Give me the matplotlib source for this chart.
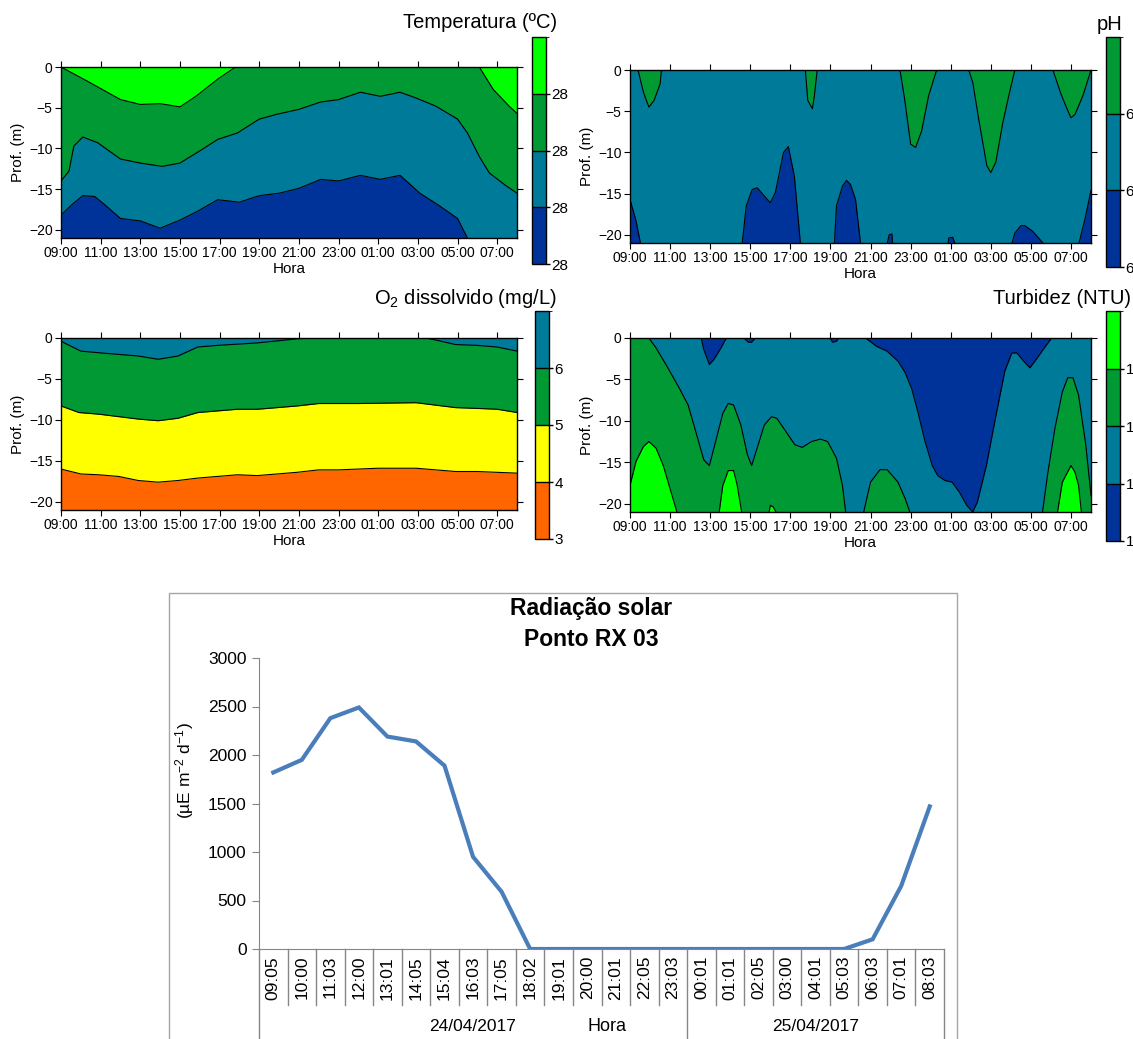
import matplotlib
matplotlib.use('Agg')
import matplotlib.pyplot as plt
from matplotlib.colors import ListedColormap, BoundaryNorm
from matplotlib.cm import ScalarMappable
from matplotlib.patches import Rectangle

plt.rcParams['font.family'] = ['Liberation Sans', 'DejaVu Sans']
plt.rcParams['mathtext.default'] = 'regular'

W, H = 1133, 1039

# ---------------- dados (hora: 0 = 09:00 ... 23 = 08:00, profundidade em m)
horas_lbl = ['09:00', '11:00', '13:00', '15:00', '17:00', '19:00', '21:00',
             '23:00', '01:00', '03:00', '05:00', '07:00']

# Temperatura - isolinhas
temp_l1a_h = [0, 1.3, 3.0, 4.0, 5.0, 6.0, 6.8, 7.9, 8.8]
temp_l1a_d = [0, -1.7, -4.0, -4.6, -4.5, -4.9, -3.6, -1.5, 0]
temp_l1b_h = [21.1, 21.8, 22.6, 23.0]
temp_l1b_d = [0, -2.75, -4.8, -5.7]
temp_l2_h = [0, 0.4, 0.65, 1.1, 1.85, 3.0, 4.0, 5.1, 6.0, 7.0, 7.9, 8.9, 10.0, 10.9,
             12.0, 13.1, 14.0, 15.1, 16.1, 17.1, 17.9, 18.9, 20.0, 20.5, 21.1, 21.6, 22.4, 23.0]
temp_l2_d = [-14.0, -12.8, -9.7, -8.6, -9.3, -11.3, -11.8, -12.2, -11.8, -10.3, -8.9, -8.1,
             -6.4, -5.8, -5.2, -4.3, -4.0, -3.1, -3.6, -3.1, -3.8, -4.8, -6.4, -8.1, -11.0,
             -13.0, -14.5, -15.5]
temp_l3_h = [0, 0.55, 1.1, 1.7, 2.2, 3.0, 4.0, 5.0, 6.0, 6.9, 7.9, 9.0, 10.0, 11.0, 12.0,
             13.1, 14.0, 15.1, 16.1, 17.1, 18.1, 19.0, 20.0, 20.5]
temp_l3_d = [-18.2, -16.9, -15.8, -15.9, -16.9, -18.6, -18.9, -19.8, -18.8, -17.7, -16.3,
             -16.6, -15.8, -15.5, -14.9, -13.8, -14.0, -13.3, -13.8, -13.3, -15.5, -16.9,
             -18.6, -21.0]
temp_niveis = [28.0, 28.1, 28.2, 28.3, 28.4]

# pH - manchas verdes (superficie) e azuis (fundo)
ph_verde_h = [[0.4, 0.67, 0.94, 1.2, 1.5, 1.57],
              [8.75, 8.87, 9.1, 9.2, 9.34],
              [13.47, 13.7, 14.0, 14.25, 14.55, 14.9, 15.3],
              [16.9, 17.1, 17.4, 17.8, 18.0, 18.25, 18.6, 18.9, 19.2],
              [21.1, 21.5, 21.8, 22.0, 22.2, 22.6, 23.0]]
ph_verde_d = [[0, -2.7, -4.5, -3.7, -1.7, 0],
              [0, -3.7, -4.7, -3.1, 0],
              [0, -3.5, -9.0, -9.4, -7.4, -3.1, 0],
              [0, -1.5, -6.0, -11.6, -12.45, -11.2, -6.4, -3.1, 0],
              [0, -2.9, -4.7, -5.8, -5.4, -3.1, 0]]
ph_azul_h = [[0, 0.3, 0.52],
             [5.6, 5.8, 6.1, 6.35, 6.7, 7.0, 7.25, 7.66, 7.9, 8.2, 8.5],
             [10.2, 10.3, 10.6, 10.8, 11.0, 11.25, 11.5],
             [12.84, 12.93, 13.07, 13.1],
             [15.87, 15.9, 16.1, 16.2],
             [19.06, 19.2, 19.5, 19.7, 20.1, 20.6],
             [22.4, 22.7, 23.0]]
ph_azul_d = [[-15.7, -18.3, -21],
             [-21, -16.5, -14.5, -14.3, -15.3, -16.1, -14.9, -10.0, -9.3, -12.9, -21],
             [-21, -16.5, -14.1, -13.4, -13.9, -15.7, -21],
             [-21, -20.0, -19.9, -21],
             [-21, -20.4, -20.3, -21],
             [-21, -19.8, -18.9, -18.9, -19.6, -21],
             [-21, -18.1, -14.6]]
ph_niveis = [5.8, 6.0, 6.2, 6.4]

# O2 dissolvido - isolinhas
o2_l1_h = [0, 1.0, 1.9, 2.9, 3.9, 4.9, 5.9, 6.9, 7.9, 9.9, 11.9, 12.6, 18.4, 19.0, 19.9,
           21.0, 22.0, 23.0]
o2_l1_d = [-0.4, -1.6, -1.8, -2.0, -2.2, -2.6, -2.2, -1.1, -0.9, -0.6, -0.1, 0, 0, -0.3,
           -0.8, -0.9, -1.1, -1.6]
o2_l2_h = [0, 0.9, 1.9, 2.9, 3.9, 4.9, 5.9, 6.9, 7.9, 8.9, 9.9, 10.9, 11.9, 13.0, 15.0,
           17.9, 18.9, 19.9, 21.0, 22.0, 23.0]
o2_l2_d = [-8.3, -9.1, -9.3, -9.6, -9.9, -10.1, -9.8, -9.1, -8.9, -8.7, -8.7, -8.5, -8.3,
           -8.0, -8.0, -7.9, -8.2, -8.5, -8.6, -8.7, -9.1]
o2_l3_h = [0, 1, 1.9, 2.9, 3.9, 4.9, 5.9, 6.9, 7.9, 8.9, 9.9, 10.9, 11.9, 13, 14, 15, 16,
           17, 17.9, 18.9, 19.9, 21, 23]
o2_l3_d = [-16.0, -16.6, -16.7, -16.9, -17.4, -17.6, -17.4, -17.1, -16.9, -16.7, -16.8,
           -16.6, -16.4, -16.1, -16.1, -16.0, -15.9, -15.9, -15.9, -16.1, -16.3, -16.3, -16.5]
o2_niveis = [3, 4, 5, 6, 7]

# Turbidez - regioes verdes, verde claro (fundo) e azuis (superficie)
tb_verde_h = [[0, 0.94, 1.3, 1.84, 2.47, 2.9, 3.28, 3.68, 3.96, 4.27, 4.63, 4.9, 5.17, 5.53,
               5.86, 6.07, 6.34, 6.7, 7.06, 7.33, 7.78, 8.23, 8.6, 9.05, 9.5, 9.86, 10.3,
               10.6, 10.76],
              [11.66, 12.0, 12.47, 12.83, 13.37, 13.73, 13.96],
              [20.58, 20.85, 21.2, 21.57, 21.84, 22.1, 22.38, 22.74, 23.0]]
tb_verde_d = [[0, 0, -1.2, -3.4, -6.1, -8.1, -11.3, -14.7, -15.4, -12.5, -9.1, -7.9, -8.1,
               -10.5, -14.1, -15.4, -13.3, -10.5, -9.5, -9.7, -11.3, -12.9, -13.2, -12.5,
               -12.2, -12.5, -14.5, -17.8, -21],
              [-21, -17.4, -15.9, -15.9, -17.4, -19.4, -21],
              [-21, -16.2, -10.9, -6.5, -4.8, -4.8, -6.9, -12.9, -19.0]]
tb_claro_h = [[0, 0.3, 0.67, 0.94, 1.3, 1.66, 2.0, 2.34],
              [4.45, 4.63, 4.9, 5.17, 5.35, 5.57],
              [6.94, 7.0, 7.15, 7.28],
              [21.33, 21.57, 22.0, 22.2, 22.38, 22.52]]
tb_claro_d = [[-17.8, -14.9, -13.1, -12.5, -13.3, -15.4, -18.2, -21],
              [-21, -17.8, -16.0, -16.0, -17.8, -21],
              [-21, -20.2, -20.4, -21],
              [-21, -17.4, -15.4, -16.2, -17.8, -21]]
tb_azul_h = [[3.55, 3.68, 3.96, 4.18, 4.54, 4.8],
             [5.68, 5.9, 6.07, 6.25],
             [9.98, 10.1, 10.3, 10.4],
             [11.75, 12.3, 12.83, 13.37, 13.73, 14.05, 14.36, 14.72, 15.08, 15.35, 15.71,
              16.07, 16.43, 16.8, 17.1, 17.33, 17.78, 18.23, 18.7, 19.05, 19.3, 19.64,
              19.95, 20.2, 20.67, 21.03]]
tb_azul_d = [[0, -1.4, -3.2, -2.6, -1.2, 0],
             [0, -0.5, -0.5, 0],
             [0, -0.5, -0.4, 0],
             [0, -1.0, -1.6, -2.8, -4.2, -6.1, -8.9, -12.5, -15.4, -16.6, -17.2, -17.4,
              -18.6, -20.2, -21, -19.8, -15.4, -9.7, -4.0, -1.8, -1.8, -2.8, -3.6, -2.8,
              -1.2, 0]]
tb_niveis = [0.8, 0.9, 1.0, 1.1, 1.2]

# Radiacao solar
rad_horas = ['09:05', '10:00', '11:03', '12:00', '13:01', '14:05', '15:04', '16:03',
             '17:05', '18:02', '19:01', '20:00', '21:01', '22:05', '23:03', '00:01',
             '01:01', '02:05', '03:00', '04:01', '05:03', '06:03', '07:01', '08:03']
rad_valores = [1820, 1950, 2380, 2490, 2190, 2140, 1890, 950, 590, 0, 0, 0, 0, 0, 0, 0,
               0, 0, 0, 0, 0, 100, 650, 1470]
rad_datas = ['24/04/2017', '25/04/2017']

# ---------------- cores
VCLARO = '#00FF00'
VERDE = '#009933'
PETROLEO = '#007A99'
AZUL = '#003399'
AMARELO = '#FFFF00'
LARANJA = '#FF6600'


def caixa(l, t, r, b):
    return [l / W, 1 - b / H, (r - l) / W, (b - t) / H]


fig = plt.figure(figsize=(W / 100, H / 100), dpi=100)


def prepara(ax, fundo):
    ax.fill_between([0, 23], -21, 0, color=fundo, lw=0)
    ax.set_xlim(0, 23)
    ax.set_ylim(-21, 0)
    ax.set_xticks(range(0, 23, 2))
    ax.set_xticklabels(horas_lbl)
    ax.set_yticks([0, -5, -10, -15, -20])
    ax.tick_params(direction='out', length=4, top=True, right=True, labelsize=10,
                   pad=2)
    ax.set_xlabel('Hora', fontsize=11, labelpad=1)
    ax.set_ylabel('Prof. (m)', fontsize=11, labelpad=3)
    for s in ax.spines.values():
        s.set_linewidth(1)


def baixo(ax, h, d, cor):
    ax.fill_between(h, d, -21, color=cor, lw=0)
    ax.plot(h, d, color='k', lw=0.8)


def cima(ax, h, d, cor):
    ax.fill_between(h, 0, d, color=cor, lw=0)
    ax.plot(h, d, color='k', lw=0.8)


def barra(rect, cores, niveis):
    cax = fig.add_axes(rect)
    cmap = ListedColormap(cores)
    norm = BoundaryNorm(niveis, cmap.N)
    cb = fig.colorbar(ScalarMappable(norm=norm, cmap=cmap), cax=cax,
                      ticks=niveis[:-1], drawedges=True, format='%.0f')
    cb.ax.tick_params(length=3, labelsize=11, width=1, pad=1)
    cb.outline.set_linewidth(1)
    cb.dividers.set_linewidth(1)
    return cb


# Temperatura
ax1 = fig.add_axes(caixa(61, 67, 517, 238))
prepara(ax1, VERDE)
baixo(ax1, temp_l2_h, temp_l2_d, PETROLEO)
baixo(ax1, temp_l3_h, temp_l3_d, AZUL)
cima(ax1, temp_l1a_h, temp_l1a_d, VCLARO)
cima(ax1, temp_l1b_h, temp_l1b_d, VCLARO)
barra(caixa(532, 37, 546, 264), [AZUL, PETROLEO, VERDE, VCLARO], temp_niveis)
fig.text(557 / W, 1 - 23 / H, 'Temperatura (ºC)', ha='right', va='center', fontsize=14.5)

# pH
ax2 = fig.add_axes(caixa(630, 70, 1091, 243))
prepara(ax2, PETROLEO)
for h, d in zip(ph_verde_h, ph_verde_d):
    cima(ax2, h, d, VERDE)
for h, d in zip(ph_azul_h, ph_azul_d):
    baixo(ax2, h, d, AZUL)
barra(caixa(1106, 37, 1120, 267), [AZUL, PETROLEO, VERDE], ph_niveis)
fig.text(1122 / W, 1 - 24 / H, 'pH', ha='right', va='center', fontsize=14.5)

# O2 dissolvido
ax3 = fig.add_axes(caixa(61, 338, 517, 510))
prepara(ax3, PETROLEO)
baixo(ax3, o2_l1_h, o2_l1_d, VERDE)
baixo(ax3, o2_l2_h, o2_l2_d, AMARELO)
baixo(ax3, o2_l3_h, o2_l3_d, LARANJA)
barra(caixa(535, 311, 549, 539), [LARANJA, AMARELO, VERDE, PETROLEO], o2_niveis)
fig.text(557 / W, 1 - 298 / H, 'O$_2$ dissolvido (mg/L)', ha='right', va='center',
         fontsize=14.5)

# Turbidez
ax4 = fig.add_axes(caixa(630, 338, 1091, 512))
prepara(ax4, PETROLEO)
for h, d in zip(tb_verde_h, tb_verde_d):
    baixo(ax4, h, d, VERDE)
for h, d in zip(tb_claro_h, tb_claro_d):
    baixo(ax4, h, d, VCLARO)
for h, d in zip(tb_azul_h, tb_azul_d):
    cima(ax4, h, d, AZUL)
barra(caixa(1106, 311, 1120, 541), [AZUL, PETROLEO, VERDE, VCLARO], tb_niveis)
fig.text(1131 / W, 1 - 298 / H, 'Turbidez (NTU)', ha='right', va='center', fontsize=14.5)

# ---------------- Radiacao solar
fig.add_artist(Rectangle((169 / W, 1 - 1045 / H), (957 - 169) / W, (1045 - 593) / H,
                         transform=fig.transFigure, fill=False, edgecolor='#a6a6a6', lw=1))
ax5 = fig.add_axes(caixa(259, 658, 944, 949))
x = list(range(len(rad_horas)))
ax5.plot(x, rad_valores, color='#4A7EBB', lw=3, solid_joinstyle='miter')
ax5.set_xlim(-0.5, len(rad_horas) - 0.5)
ax5.set_ylim(0, 3000)
ax5.set_yticks(range(0, 3001, 500))
ax5.tick_params(axis='y', direction='out', length=5, color='#868686', labelsize=12.5, pad=4)
ax5.set_xticks(x)
ax5.set_xticklabels(rad_horas, rotation=90, fontsize=12.5)
ax5.tick_params(axis='x', length=0, pad=5)
for s in ['top', 'right']:
    ax5.spines[s].set_visible(False)
for s in ['left', 'bottom']:
    ax5.spines[s].set_color('#868686')
trans = ax5.get_xaxis_transform()
for i in range(len(rad_horas) + 1):
    ext = -0.31 if i in (0, 15, 24) else -0.193
    ax5.plot([i - 0.5, i - 0.5], [0, ext], color='#868686', lw=1, transform=trans,
             clip_on=False)
ax5.text(7.0, -0.268, rad_datas[0], transform=trans, ha='center', va='center', fontsize=12.5)
ax5.text(19.0, -0.268, rad_datas[1], transform=trans, ha='center', va='center',
         fontsize=12.5)
ax5.text(11.7, -0.268, 'Hora', transform=trans, ha='center', va='center', fontsize=13)
fig.text(185 / W, 1 - 771 / H, '(µE m$^{-2}$ d$^{-1}$)', rotation=90, ha='center',
         va='center', fontsize=12.5)
fig.text(591 / W, 1 - 609 / H, 'Radiação solar', ha='center', va='center', fontsize=16.5,
         fontweight='bold')
fig.text(591 / W, 1 - 640 / H, 'Ponto RX 03', ha='center', va='center', fontsize=16.5,
         fontweight='bold')

fig.savefig('out.png', dpi=100)
